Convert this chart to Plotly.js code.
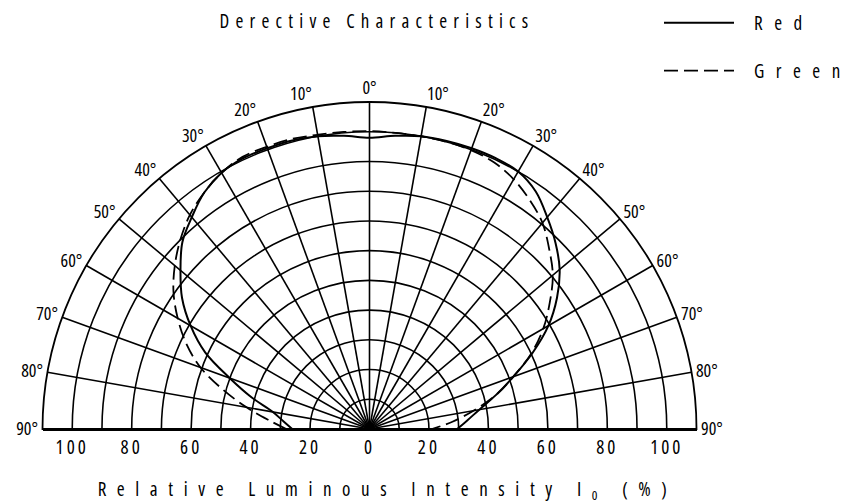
<!DOCTYPE html>
<html>
<head>
<meta charset="utf-8">
<script src="https://cdn.plot.ly/plotly-3.0.1.min.js"></script>
<style>
  html, body { margin: 0; padding: 0; background: #fff; }
  #chart { width: 856px; height: 504px; }
  #chart text { font-stretch: 75% !important; }
  .gtitle { letter-spacing: 6.2px; }
  .xtitle { letter-spacing: 10.6px; transform: translateX(18px); }
  .legendtext { letter-spacing: 11.5px; }
  .xtick text { letter-spacing: 3px; }
  .legend .legendlines path { d: path("M5,0h70"); }
</style>
</head>
<body>
<div id="chart"></div>
<script>
// ---- data ----
const angles = [-90,-85,-80,-75,-70,-65,-60,-55,-50,-45,-40,-35,-30,-25,-20,-15,-10,-5,0,
                5,10,15,20,25,30,35,40,45,50,55,60,65,70,75,80,85,90];
const redIntensity = [26,29,33,41,50,61,69.5,77,83,89,93,97,99.5,100.5,100.5,100.5,100,99,98,
                      99,100,100.3,100.5,100.5,100,97.5,93,88.5,83.5,77,69.5,60.5,51.5,44,37.5,33,29.5];
const greenIntensity = [28,34,42,51,60.5,68,74.5,80.5,85.5,90,94,97,99.5,101,101,101,100.5,100.3,100.2,
                        100,100,100,99.8,99,97,94,90.5,85.5,80.5,74,67.5,60,51.5,44,35.5,28,21];
const seriesNames = ["Red", "Green"];
const angleTickVals = [-90,-80,-70,-60,-50,-40,-30,-20,-10,0,10,20,30,40,50,60,70,80,90];
const angleTickText = ["90°","80°","70°","60°","50°","40°","30°","20°","10°","0°",
                       "10°","20°","30°","40°","50°","60°","70°","80°","90°"];
const radialTickVals = [-100,-80,-60,-40,-20,0,20,40,60,80,100];
const radialTickText = ["100","80","60","40","20","0","20","40","60","80","100"];
const radialMax = 110;

// ---- layout geometry (pixels) ----
const W = 856, H = 504;
const cx = 369.5, cy = 429, R = 327;
const xd = [(cx - R) / W, (cx + R) / W];
const yd = [(H - cy) / H, (H - cy + R) / H];
const FONT = "Open Sans, Liberation Sans, sans-serif";

const traces = [
  {
    type: 'scatterpolar', r: redIntensity, theta: angles, mode: 'lines',
    name: seriesNames[0], legendgroup: 'g1',
    line: { color: '#000', width: 2, shape: 'spline' }, hoverinfo: 'skip'
  },
  {
    type: 'scatterpolar', r: greenIntensity, theta: angles, mode: 'lines',
    name: seriesNames[1], legendgroup: 'g2',
    line: { color: '#000', width: 1.8, dash: '14px,6px', shape: 'spline' }, hoverinfo: 'skip'
  },
  {
    type: 'scatter', x: [-radialMax, radialMax], y: [0, 0], mode: 'none',
    xaxis: 'x', yaxis: 'y', showlegend: false, hoverinfo: 'skip'
  }
];

const layout = {
  width: W, height: H,
  margin: { l: 0, r: 0, t: 0, b: 0, autoexpand: false },
  paper_bgcolor: '#fff', plot_bgcolor: 'rgba(0,0,0,0)',
  font: { family: FONT, color: '#000', size: 16 },
  title: {
    text: 'Derective Characteristics',
    x: 377 / W, xanchor: 'center', xref: 'paper',
    y: 1 - 21 / H, yanchor: 'middle', yref: 'container',
    font: { family: FONT, size: 19, color: '#000' }
  },
  showlegend: true,
  legend: {
    x: 659 / W, xanchor: 'left', y: 1 - 4 / H, yanchor: 'top',
    bgcolor: 'rgba(0,0,0,0)', borderwidth: 0,
    font: { family: FONT, size: 19, color: '#000' },
    itemwidth: 85, tracegroupgap: 20, itemclick: false, itemdoubleclick: false
  },
  polar: {
    domain: { x: xd, y: yd },
    sector: [0, 180],
    bgcolor: 'rgba(0,0,0,0)',
    radialaxis: {
      range: [0, radialMax], tickmode: 'linear', tick0: 0, dtick: 10,
      showticklabels: false, ticks: '', showline: false,
      gridcolor: '#000', gridwidth: 1.6
    },
    angularaxis: {
      rotation: 90, direction: 'clockwise',
      tickmode: 'array', tickvals: angleTickVals, ticktext: angleTickText,
      showgrid: true, gridcolor: '#000', gridwidth: 1.6,
      showline: true, linecolor: '#000', linewidth: 1.8,
      ticks: '', tickfont: { family: FONT, size: 18, color: '#000' }
    }
  },
  xaxis: {
    domain: xd, range: [-radialMax, radialMax], anchor: 'y',
    tickmode: 'array', tickvals: radialTickVals, ticktext: radialTickText,
    showgrid: false, zeroline: false, ticks: '',
    showline: true, linecolor: '#000', linewidth: 2.2,
    tickfont: { family: FONT, size: 19, color: '#000' },
    fixedrange: true, automargin: false,
    title: {
      text: 'Relative Luminous Intensity I<sub>0</sub> (%)',
      font: { family: FONT, size: 19, color: '#000' },
      standoff: 26
    }
  },
  yaxis: {
    domain: yd, range: [0, 1], visible: false, fixedrange: true
  }
};

Plotly.newPlot('chart', traces, layout, { displayModeBar: false, staticPlot: true });
</script>
</body>
</html>
